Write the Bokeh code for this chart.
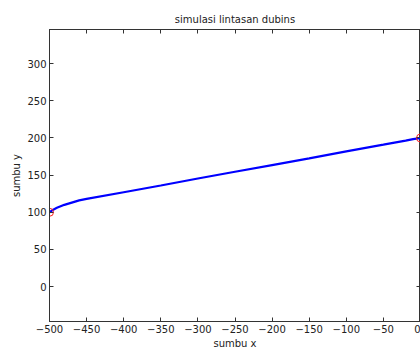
from bokeh.plotting import figure
from bokeh.models import LinearAxis, Range1d, FixedTicker, CustomLabelingPolicy
from bokeh.embed import file_html
from bokeh.resources import INLINE

path_x = [-500, -495, -490, -480, -470, -460, -450, -400, -350, -300, -250, -200, -150, -100, -50, -20, -10, 0]
path_y = [100, 103.5, 106, 110, 113, 116, 118, 127, 136, 145.5, 154.5, 163.5, 172.5, 182, 191, 196.5, 198.5, 200]
end_x = [-500, 0]
end_y = [100, 200]
x_ticks = [-500, -450, -400, -350, -300, -250, -200, -150, -100, -50, 0]
y_ticks = [0, 50, 100, 150, 200, 250, 300]

FONT = "DejaVu Sans"
TXT = "#222222"

p = figure(width=420, height=351, output_backend="svg", toolbar_location=None,
           x_range=Range1d(-500, 0), y_range=Range1d(-47, 346),
           min_border_left=49, min_border_right=0, min_border_top=29, min_border_bottom=30)
p.grid.visible = False
p.outline_line_color = "#333333"
p.outline_line_width = 1

p.title.text = "simulasi lintasan dubins"
p.title.align = "center"
p.title.text_font = FONT
p.title.text_font_size = "10px"
p.title.text_font_style = "normal"
p.title.text_color = TXT
p.title.standoff = 9

bottom_ax = p.below[0]
left_ax = p.left[0]
for ax, ticks, lab in ((bottom_ax, x_ticks, "sumbu x"), (left_ax, y_ticks, "sumbu y")):
    ax.ticker = FixedTicker(ticks=ticks)
    ax.axis_label = lab
    ax.axis_label_text_font = FONT
    ax.axis_label_text_font_size = "10px"
    ax.axis_label_text_font_style = "normal"
    ax.axis_label_text_color = TXT
    ax.axis_label_standoff = 2
    ax.major_label_text_font = FONT
    ax.major_label_text_font_size = "10px"
    ax.major_label_text_color = TXT
    ax.major_label_standoff = 3
    ax.major_tick_in = 4
    ax.major_tick_out = 0
    ax.minor_tick_line_color = None
    ax.axis_line_color = "#333333"
    ax.major_tick_line_color = "#333333"

hide = CustomLabelingPolicy(code="const all = [...indices]; for (const i of all) { indices.unset(i) } return indices")
top_ax = LinearAxis(ticker=FixedTicker(ticks=x_ticks), major_label_policy=hide)
right_ax = LinearAxis(ticker=FixedTicker(ticks=y_ticks), major_label_policy=hide)
for ax in (top_ax, right_ax):
    ax.major_label_standoff = 0
    ax.axis_label_standoff = 0
    ax.major_label_text_font_size = "0px"
    ax.major_tick_in = 4
    ax.major_tick_out = 0
    ax.minor_tick_line_color = None
    ax.axis_line_color = "#333333"
    ax.major_tick_line_color = "#333333"
p.add_layout(top_ax, "above")
p.add_layout(right_ax, "right")

p.line(path_x, path_y, line_color="#0000ff", line_width=2.2)
p.scatter(end_x, end_y, marker="circle", size=8, fill_color=None, line_color="#ff2020", line_width=1)

open("out.html", "w").write(file_html(p, INLINE))
